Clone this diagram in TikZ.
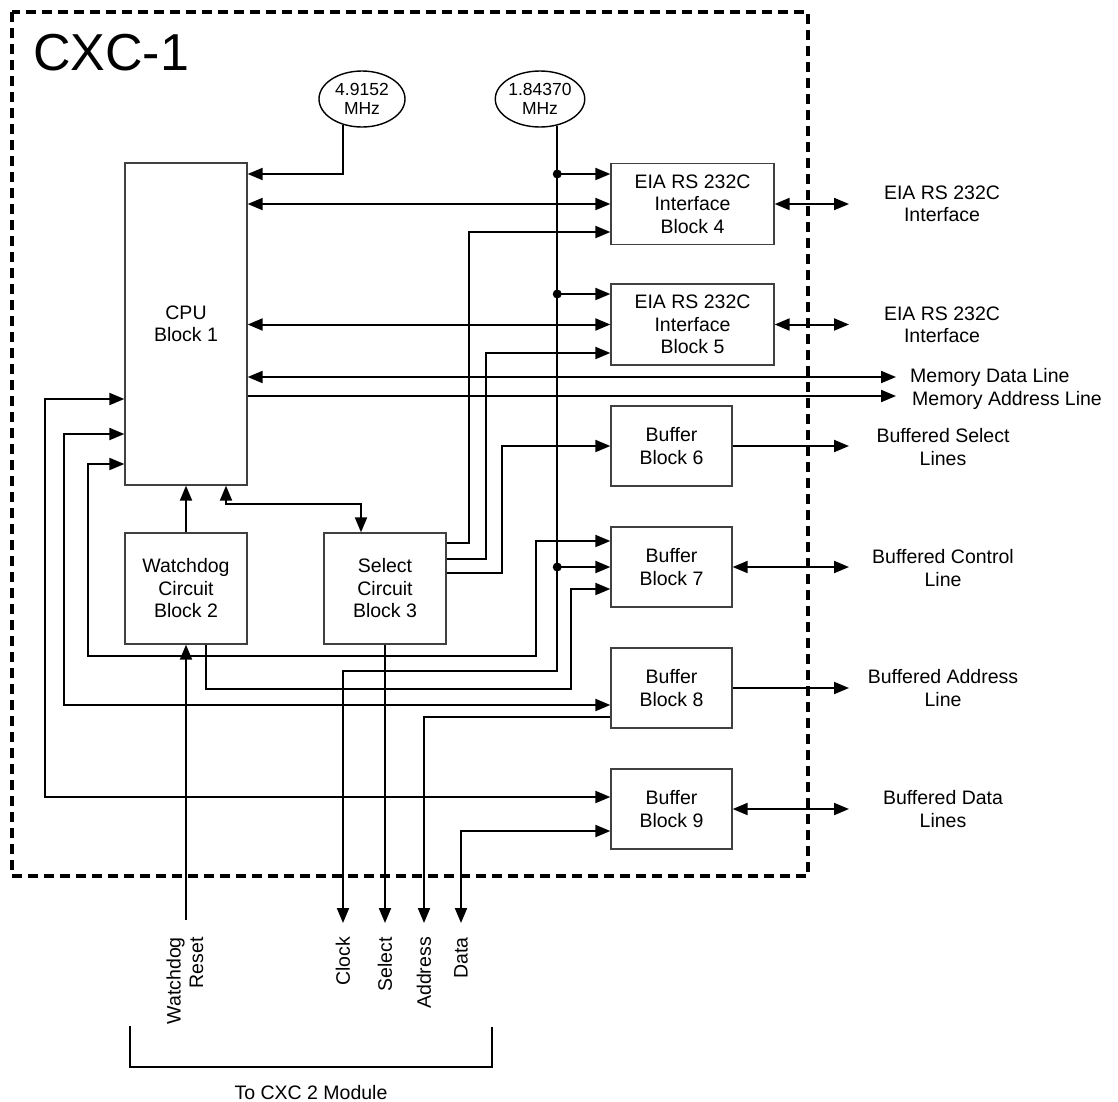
\documentclass[tikz,border=0pt]{standalone}
\usepackage{fontspec}
\setmainfont{Liberation Sans}
\usetikzlibrary{arrows.meta, shapes.geometric, positioning}

\begin{document}
\begin{tikzpicture}[x=1pt, y=-1pt, >={Triangle[length=15pt,width=12pt]},
    wire/.style={line width=2pt},
    blk/.style={draw=black!75, line width=1.3pt, align=center, inner sep=0pt,
        font=\fontsize{19.5}{22.5}\selectfont},
    eiabox/.style={blk, minimum width=163pt, minimum height=81pt},
    bufbox/.style={blk, minimum width=121pt, minimum height=80pt},
    ctlbox/.style={blk, minimum width=122pt, minimum height=111pt},
    osc/.style={ellipse, draw, line width=1.4pt, minimum width=86pt, minimum height=56pt,
        inner sep=0pt, align=center, font=\fontsize{17.5}{19.5}\selectfont},
    lab/.style={align=center, inner sep=0pt, font=\fontsize{19.5}{22.5}\selectfont},
    vlab/.style={lab, rotate=90, anchor=east},
    frame/.style={line width=4pt, dash pattern=on 10pt off 6pt}]
    \useasboundingbox (0,0) rectangle (1118,1101);

    % Module frame and title
    \draw[frame] (12,12) rectangle (808,876);
    \node[anchor=base west, inner sep=0pt, font=\fontsize{52}{60}\selectfont] (title) at (33,70) {CXC-1};

    % Oscillators
    \node[osc] (osca) at (362,99) {4.9152\\MHz};
    \node[osc] (oscb) at (540,99) {1.84370\\MHz};

    % Blocks
    \node[blk, minimum width=122pt, minimum height=322pt] (cpu) at (186,324) {CPU\\Block 1};
    \node[ctlbox] (wdog) at (186,588.5) {Watchdog\\Circuit\\Block 2};
    \node[ctlbox] (sel) at (385,588.5) {Select\\Circuit\\Block 3};
    \node[eiabox] (eia4) at (692.5,204) {EIA RS 232C\\Interface\\Block 4};
    \node[eiabox] (eia5) at (692.5,324.5) {EIA RS 232C\\Interface\\Block 5};
    \node[bufbox] (buf6) at (671.5,446) {Buffer\\Block 6};
    \node[bufbox] (buf7) at (671.5,567) {Buffer\\Block 7};
    \node[bufbox] (buf8) at (671.5,688) {Buffer\\Block 8};
    \node[bufbox] (buf9) at (671.5,809) {Buffer\\Block 9};

    % Outside labels
    \node[lab] (ext4) at (942,204) {EIA RS 232C\\Interface};
    \node[lab] (ext5) at (942,325) {EIA RS 232C\\Interface};
    \node[lab, anchor=west] (memd) at (910,377) {Memory Data Line};
    \node[lab, anchor=west] (mema) at (912,400) {Memory Address Line};
    \node[lab] (bsel) at (943,447) {Buffered Select\\Lines};
    \node[lab] (bctl) at (943,568) {Buffered Control\\Line};
    \node[lab] (badr) at (943,688) {Buffered Address\\Line};
    \node[lab] (bdat) at (943,809) {Buffered Data\\Lines};

    % Lines to the CXC 2 module
    \node[vlab, align=right] (wdr) at (185,937) {Watchdog\\Reset};
    \node[vlab] (clk) at (343,937) {Clock};
    \node[vlab] (slc) at (385,937) {Select};
    \node[vlab] (adr) at (424,937) {Address};
    \node[vlab] (dat) at (461,937) {Data};
    \draw[line width=1.5pt] (130,1026) |- (492,1067) -- (492,1027);
    \node[lab, anchor=base] (tocxc) at (311,1099) {To CXC 2 Module};

    % Clock distribution
    \draw[wire,->] (osca.233) |- (cpu.east |- 0,174);
    \draw[wire,->] (oscb.-57) |- (343,671) -- ([yshift=14pt]clk.east);
    \coordinate (d1) at (oscb.-57 |- 0,174);
    \coordinate (d2) at (oscb.-57 |- 0,294);
    \coordinate (d3) at (oscb.-57 |- buf7.west);
    \draw[wire,->] (d1) -- (eia4.west |- d1);
    \draw[wire,->] (d2) -- (eia5.west |- d2);
    \draw[wire,->] (d3) -- (buf7.west);
    \foreach \d in {d1,d2,d3} \fill (\d) circle (4.5pt);

    % CPU buses
    \draw[wire,<->] (eia4.west -| cpu.east) -- (eia4.west);
    \draw[wire,<->] (eia5.west -| cpu.east) -- (eia5.west);
    \draw[wire,<->] (cpu.east |- 0,377) -- ([xshift=-14pt]memd.west);
    \draw[wire,->] (cpu.east |- 0,396) -- (896,396);
    \draw[wire,<->] (cpu.west |- 0,399) -| (45,797) -- (buf9.west |- 0,797);
    \draw[wire,<->] (cpu.west |- 0,434) -| (64,705) -- (buf8.west |- 0,705);
    \draw[wire,<->] (cpu.west |- 0,464) -| (88,656) -| (536,541) -- (buf7.west |- 0,541);
    \draw[wire,->] (wdog.north) -- (cpu.south);
    \draw[wire,<->] (cpu.south -| 226,0) |- (361,504) -- (sel.north -| 361,0);

    % Select circuit outputs
    \draw[wire,->] (sel.east |- 0,543) -| (469,232) -- (eia4.west |- 0,232);
    \draw[wire,->] (sel.east |- 0,559) -| (486,353) -- (eia5.west |- 0,353);
    \draw[wire,->] (sel.east |- 0,573) -| (502,446) -- (buf6.west);
    \draw[wire,->] (sel.south) -- ([yshift=14pt]slc.east);

    % Watchdog lines
    \draw[wire,->] (wdog.south |- 0,920) -- (wdog.south);
    \draw[wire,->] (wdog.south -| 206,0) |- (571,689) |- (buf7.west |- 0,589);

    % Address and data
    \draw[wire,->] (buf8.west |- 0,717) -| ([yshift=14pt]adr.east);
    \draw[wire,<->] ([yshift=14pt]dat.east) |- (buf9.west |- 0,831);

    % Buffered outputs
    \draw[wire,<->] (eia4.east) -- (eia4.east -| 849,0);
    \draw[wire,<->] (eia5.east) -- (eia5.east -| 849,0);
    \draw[wire,->] (buf6.east) -- (buf6.east -| 849,0);
    \draw[wire,<->] (buf7.east) -- (buf7.east -| 849,0);
    \draw[wire,->] (buf8.east) -- (buf8.east -| 849,0);
    \draw[wire,<->] (buf9.east) -- (buf9.east -| 849,0);
\end{tikzpicture}
\end{document}
